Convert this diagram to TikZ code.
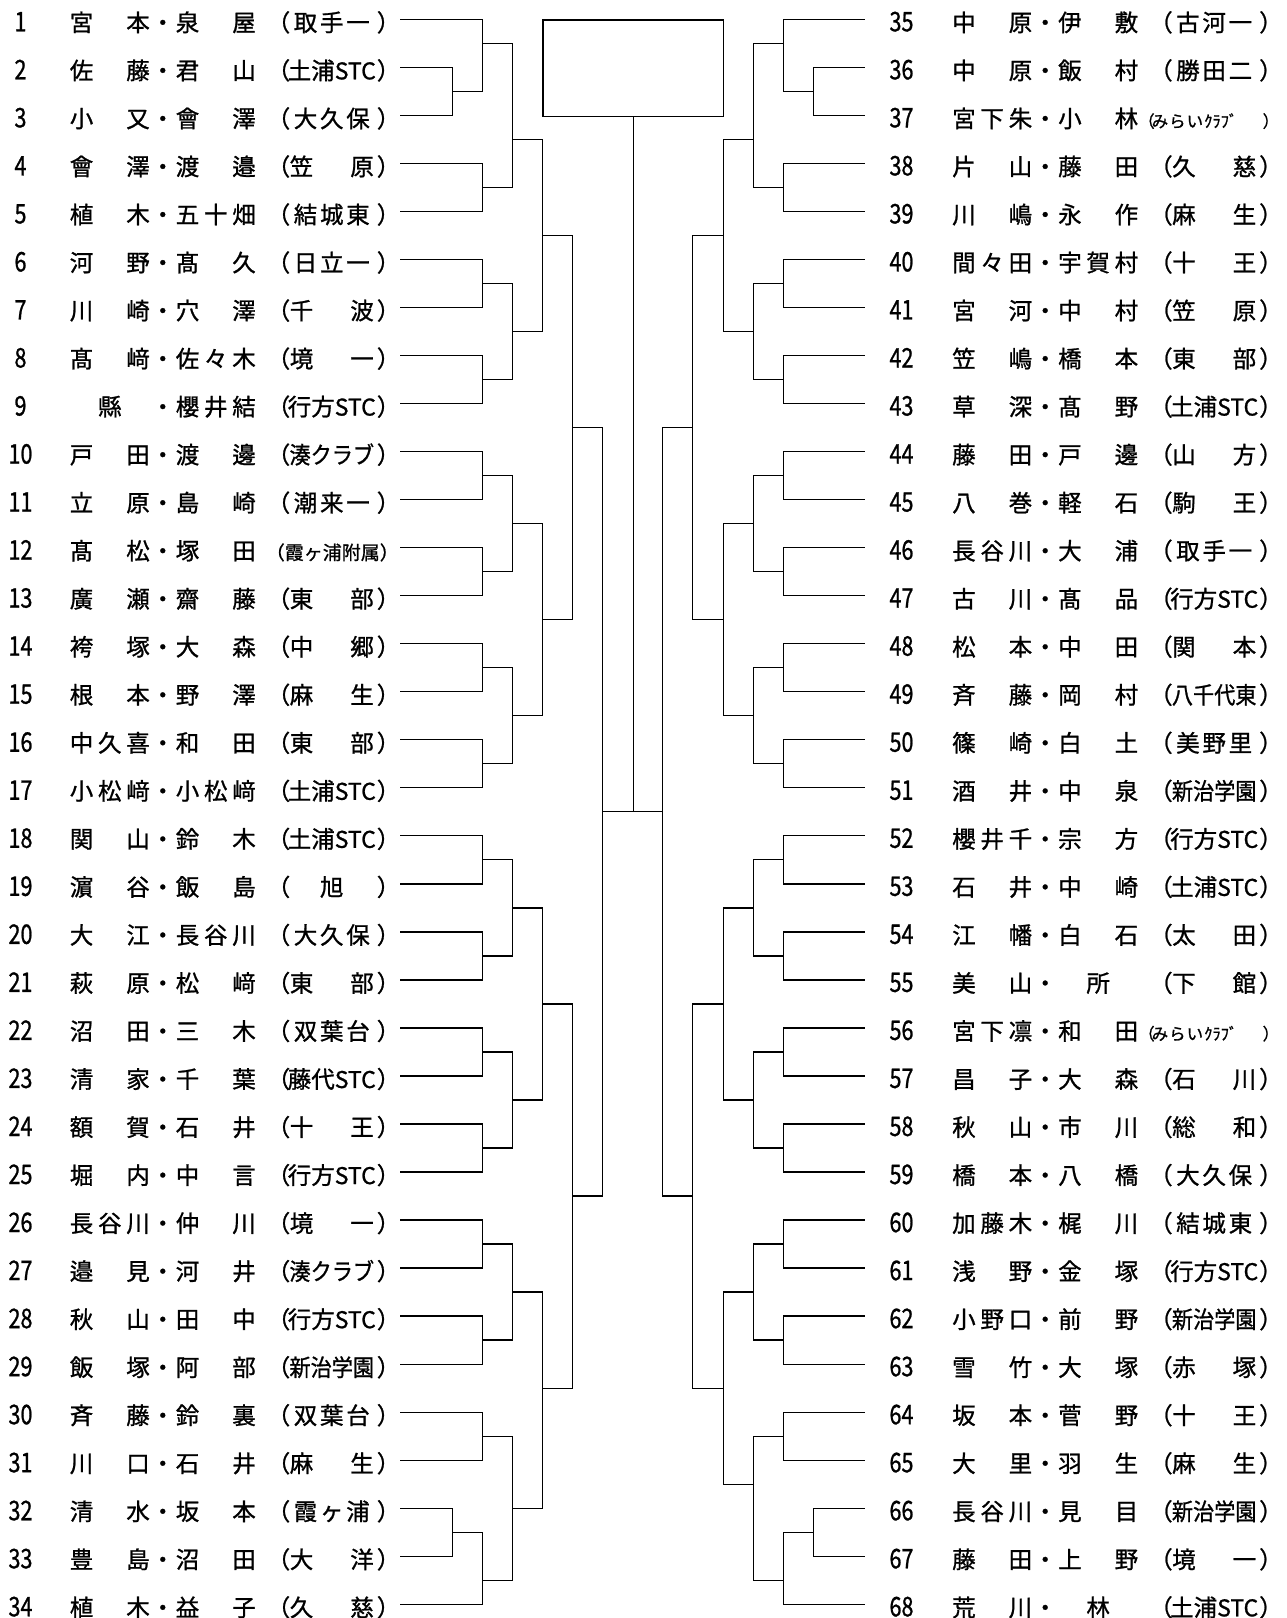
\documentclass[tikz,border=0pt]{standalone}
\usepackage{fontspec}
\usepackage{graphicx}
\setmainfont{Noto Sans CJK JP}[FakeBold=1.0]
\def\spreadA#1{\ifx\relax#1\else#1\expandafter\spreadB\fi}
\def\spreadB#1{\ifx\relax#1\else\hfill#1\expandafter\spreadB\fi}
\newcommand\spreadit[1]{\hfil\spreadA#1\relax\hfil}
\newcommand\numf[1]{\scalebox{0.8}[1]{\fontsize{27}{27}\selectfont #1}}
\newcommand\sS[1]{\spreadit{#1}}
\newcommand\sP[1]{\hss\hbox to76pt{\spreadit{#1}}\hss}
\newcommand\sF[1]{\hss\scalebox{0.9}[1]{#1}\hss}
\newcommand\sT[1]{\hss #1{\fontsize{23}{23}\selectfont STC}\hss}
\newcommand\sch[1]{\hskip11pt\hbox to23pt{（\hss}\hbox to84pt{#1}\hskip3pt\hbox to23pt{）\hss}\hskip0pt}
\newcommand\smallsch[2]{\hbox to144pt{\hskip#1\fontsize{19}{19}\selectfont #2\hss}}
\newcommand\mirai{\hbox to144pt{\fontsize{16.5}{16.5}\selectfont\hbox to141pt{（\kern-3pt み\kern1pt ら\kern1pt い\kern1pt ｸﾗﾌﾞ\hfil ）}\hss}}
\newcommand\ent[3]{\hbox to80pt{\spreadit{#1}}\hbox to26pt{\hss ・\hss}\hbox to80pt{\spreadit{#2}}#3}
\newcommand\Lent[4]{%
  \node[num] (n#1) at (20.5,{19.3+(#1-1)*48.03}) {\numf{#1}};
  \node[ent,anchor=east] (p#1) at (400,{19.3+(#1-1)*48.03}) {\ent{#2}{#3}{#4}};}
\newcommand\Rent[4]{%
  \node[num,minimum width=73pt] (n#1) at (901.5,{19.3+(#1-35)*48.03}) {\numf{#1}};
  \node[ent,anchor=west] (p#1) at (952,{19.3+(#1-35)*48.03}) {\ent{#2}{#3}{#4}};}
\newcommand\mt[5]{%
  \coordinate (#1) at (#4,{19.3+(#5-1)*48.03});
  \draw[br] (#2) -- (#2 -| #1) -- (#3 -| #1) -- (#3);}
\tikzset{
  br/.style={line width=1.3pt},
  ent/.style={inner sep=0pt, text height=30pt, text depth=6pt, font=\fontsize{23.5}{23.5}\selectfont},
  num/.style={inner sep=0pt, text height=30pt, text depth=6pt},
}
\begin{document}
\begin{tikzpicture}[x=1pt,y=-1pt]
\useasboundingbox (0,0) rectangle (1286,1618);
% left entries
\Lent{1}{宮本}{泉屋}{\sch{\sP{取手一}}}
\Lent{2}{佐藤}{君山}{\sch{\sT{土浦}}}
\Lent{3}{小又}{會澤}{\sch{\sP{大久保}}}
\Lent{4}{會澤}{渡邉}{\sch{\sS{笠原}}}
\Lent{5}{植木}{五十畑}{\sch{\sP{結城東}}}
\Lent{6}{河野}{髙久}{\sch{\sP{日立一}}}
\Lent{7}{川崎}{穴澤}{\sch{\sS{千波}}}
\Lent{8}{髙﨑}{佐々木}{\sch{\sS{境一}}}
\Lent{9}{縣}{櫻井結}{\sch{\sT{行方}}}
\Lent{10}{戸田}{渡邊}{\sch{\sF{湊クラブ}}}
\Lent{11}{立原}{島崎}{\sch{\sP{潮来一}}}
\Lent{12}{髙松}{塚田}{\smallsch{10pt}{（霞ヶ浦附属）}}
\Lent{13}{廣瀬}{齋藤}{\sch{\sS{東部}}}
\Lent{14}{袴塚}{大森}{\sch{\sS{中郷}}}
\Lent{15}{根本}{野澤}{\sch{\sS{麻生}}}
\Lent{16}{中久喜}{和田}{\sch{\sS{東部}}}
\Lent{17}{小松﨑}{小松﨑}{\sch{\sT{土浦}}}
\Lent{18}{関山}{鈴木}{\sch{\sT{土浦}}}
\Lent{19}{濵谷}{飯島}{\sch{\sS{旭}}}
\Lent{20}{大江}{長谷川}{\sch{\sP{大久保}}}
\Lent{21}{萩原}{松﨑}{\sch{\sS{東部}}}
\Lent{22}{沼田}{三木}{\sch{\sP{双葉台}}}
\Lent{23}{清家}{千葉}{\sch{\sT{藤代}}}
\Lent{24}{額賀}{石井}{\sch{\sS{十王}}}
\Lent{25}{堀内}{中言}{\sch{\sT{行方}}}
\Lent{26}{長谷川}{仲川}{\sch{\sS{境一}}}
\Lent{27}{邉見}{河井}{\sch{\sF{湊クラブ}}}
\Lent{28}{秋山}{田中}{\sch{\sT{行方}}}
\Lent{29}{飯塚}{阿部}{\sch{\sF{新治学園}}}
\Lent{30}{斉藤}{鈴裏}{\sch{\sP{双葉台}}}
\Lent{31}{川口}{石井}{\sch{\sS{麻生}}}
\Lent{32}{清水}{坂本}{\sch{\sP{霞ヶ浦}}}
\Lent{33}{豊島}{沼田}{\sch{\sS{大洋}}}
\Lent{34}{植木}{益子}{\sch{\sS{久慈}}}
% right entries
\Rent{35}{中原}{伊敷}{\sch{\sP{古河一}}}
\Rent{36}{中原}{飯村}{\sch{\sP{勝田二}}}
\Rent{37}{宮下朱}{小林}{\mirai}
\Rent{38}{片山}{藤田}{\sch{\sS{久慈}}}
\Rent{39}{川嶋}{永作}{\sch{\sS{麻生}}}
\Rent{40}{間々田}{宇賀村}{\sch{\sS{十王}}}
\Rent{41}{宮河}{中村}{\sch{\sS{笠原}}}
\Rent{42}{笠嶋}{橋本}{\sch{\sS{東部}}}
\Rent{43}{草深}{髙野}{\sch{\sT{土浦}}}
\Rent{44}{藤田}{戸邊}{\sch{\sS{山方}}}
\Rent{45}{八巻}{軽石}{\sch{\sS{駒王}}}
\Rent{46}{長谷川}{大浦}{\sch{\sP{取手一}}}
\Rent{47}{古川}{髙品}{\sch{\sT{行方}}}
\Rent{48}{松本}{中田}{\sch{\sS{関本}}}
\Rent{49}{斉藤}{岡村}{\sch{\sF{八千代東}}}
\Rent{50}{篠崎}{白土}{\sch{\sP{美野里}}}
\Rent{51}{酒井}{中泉}{\sch{\sF{新治学園}}}
\Rent{52}{櫻井千}{宗方}{\sch{\sT{行方}}}
\Rent{53}{石井}{中崎}{\sch{\sT{土浦}}}
\Rent{54}{江幡}{白石}{\sch{\sS{太田}}}
\Rent{55}{美山}{所}{\sch{\sS{下館}}}
\Rent{56}{宮下凛}{和田}{\mirai}
\Rent{57}{昌子}{大森}{\sch{\sS{石川}}}
\Rent{58}{秋山}{市川}{\sch{\sS{総和}}}
\Rent{59}{橋本}{八橋}{\sch{\sP{大久保}}}
\Rent{60}{加藤木}{梶川}{\sch{\sP{結城東}}}
\Rent{61}{浅野}{金塚}{\sch{\sT{行方}}}
\Rent{62}{小野口}{前野}{\sch{\sF{新治学園}}}
\Rent{63}{雪竹}{大塚}{\sch{\sS{赤塚}}}
\Rent{64}{坂本}{菅野}{\sch{\sS{十王}}}
\Rent{65}{大里}{羽生}{\sch{\sS{麻生}}}
\Rent{66}{長谷川}{見目}{\sch{\sF{新治学園}}}
\Rent{67}{藤田}{上野}{\sch{\sS{境一}}}
\Rent{68}{荒川}{林}{\sch{\sT{土浦}}}
% left bracket
\mt{a1}{p2.east}{p3.east}{452.3}{2.5}
\mt{a2}{p1.east}{a1}{482.3}{1.5}
\mt{a3}{p4.east}{p5.east}{482.3}{4.5}
\mt{a4}{a2}{a3}{512.3}{3.5}
\mt{a5}{p6.east}{p7.east}{482.3}{6.5}
\mt{a6}{p8.east}{p9.east}{482.3}{8.5}
\mt{a7}{a5}{a6}{512.3}{7.5}
\mt{a8}{a4}{a7}{542.3}{5.5}
\mt{a9}{p10.east}{p11.east}{482.3}{10.5}
\mt{a10}{p12.east}{p13.east}{482.3}{12.5}
\mt{a11}{a9}{a10}{512.3}{11.5}
\mt{a12}{p14.east}{p15.east}{482.3}{14.5}
\mt{a13}{p16.east}{p17.east}{482.3}{16.5}
\mt{a14}{a12}{a13}{512.3}{15.5}
\mt{a15}{a11}{a14}{542.3}{13.5}
\mt{a16}{a8}{a15}{572.3}{9.5}
\mt{a17}{p18.east}{p19.east}{482.3}{18.5}
\mt{a18}{p20.east}{p21.east}{482.3}{20.5}
\mt{a19}{a17}{a18}{512.3}{19.5}
\mt{a20}{p22.east}{p23.east}{482.3}{22.5}
\mt{a21}{p24.east}{p25.east}{482.3}{24.5}
\mt{a22}{a20}{a21}{512.3}{23.5}
\mt{a23}{a19}{a22}{542.3}{21.5}
\mt{a24}{p26.east}{p27.east}{482.3}{26.5}
\mt{a25}{p28.east}{p29.east}{482.3}{28.5}
\mt{a26}{a24}{a25}{512.3}{27.5}
\mt{a27}{p30.east}{p31.east}{482.3}{30.5}
\mt{a28}{p32.east}{p33.east}{452.3}{32.5}
\mt{a29}{a28}{p34.east}{482.3}{33.5}
\mt{a30}{a27}{a29}{512.3}{32}
\mt{a31}{a26}{a30}{542.3}{29.5}
\mt{a32}{a23}{a31}{572.3}{25.5}
\mt{a33}{a16}{a32}{602.7}{17.5}
% right bracket
\mt{b1}{n36.west}{n37.west}{813.3}{2.5}
\mt{b2}{n35.west}{b1}{783.3}{1.5}
\mt{b3}{n38.west}{n39.west}{783.3}{4.5}
\mt{b4}{b2}{b3}{753.3}{3.5}
\mt{b5}{n40.west}{n41.west}{783.3}{6.5}
\mt{b6}{n42.west}{n43.west}{783.3}{8.5}
\mt{b7}{b5}{b6}{753.3}{7.5}
\mt{b8}{b4}{b7}{723.3}{5.5}
\mt{b9}{n44.west}{n45.west}{783.3}{10.5}
\mt{b10}{n46.west}{n47.west}{783.3}{12.5}
\mt{b11}{b9}{b10}{753.3}{11.5}
\mt{b12}{n48.west}{n49.west}{783.3}{14.5}
\mt{b13}{n50.west}{n51.west}{783.3}{16.5}
\mt{b14}{b12}{b13}{753.3}{15.5}
\mt{b15}{b11}{b14}{723.3}{13.5}
\mt{b16}{b8}{b15}{692.7}{9.5}
\mt{b17}{n52.west}{n53.west}{783.3}{18.5}
\mt{b18}{n54.west}{n55.west}{783.3}{20.5}
\mt{b19}{b17}{b18}{753.3}{19.5}
\mt{b20}{n56.west}{n57.west}{783.3}{22.5}
\mt{b21}{n58.west}{n59.west}{783.3}{24.5}
\mt{b22}{b20}{b21}{753.3}{23.5}
\mt{b23}{b19}{b22}{723.3}{21.5}
\mt{b24}{n60.west}{n61.west}{783.3}{26.5}
\mt{b25}{n62.west}{n63.west}{783.3}{28.5}
\mt{b26}{b24}{b25}{753.3}{27.5}
\mt{b27}{n64.west}{n65.west}{783.3}{30.5}
\mt{b28}{n66.west}{n67.west}{813.3}{32.5}
\mt{b29}{b28}{n68.west}{783.3}{33.5}
\mt{b30}{b27}{b29}{753.3}{31.5}
\mt{b31}{b26}{b30}{723.3}{29.5}
\mt{b32}{b23}{b31}{692.7}{25.5}
\mt{b33}{b16}{b32}{662.7}{17.5}
% final
\node[draw, line width=1.3pt, inner sep=0pt, minimum width=180.4pt, minimum height=96.4pt, anchor=north west] (box) at (542.3,19.3) {};
\coordinate (fin) at (box.south |- a33);
\draw[br] (a33) -- (b33);
\draw[br] (box.south) -- (fin);
\end{tikzpicture}
\end{document}
